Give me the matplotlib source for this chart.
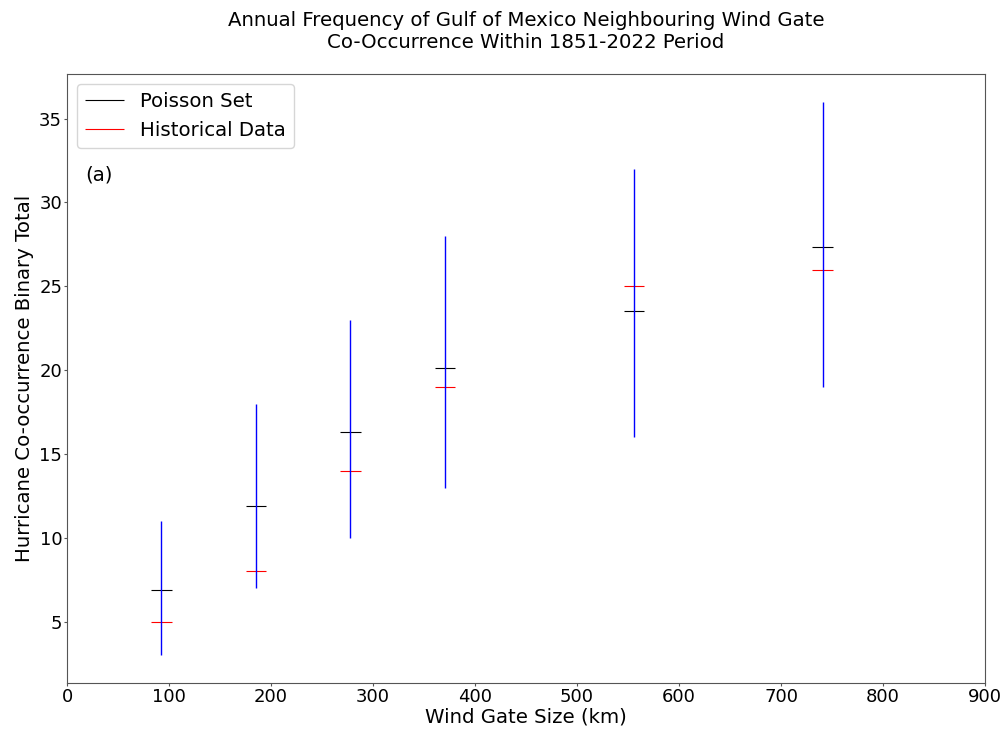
"""Gulf of Mexico wind gate co-occurrence"""

import matplotlib
matplotlib.use("Agg")
import matplotlib.pyplot as plt

# wind gate sizes in km (50, 100, 150, 200, 300, 400 nautical miles)
gate_km = [92.6, 185.2, 277.8, 370.4, 555.6, 740.8]
poisson_min = [3, 7, 10, 13, 16, 19]
poisson_max = [11, 18, 23, 28, 32, 36]
poisson_mean = [6.9, 11.9, 16.3, 20.15, 23.55, 27.35]
historical = [5, 8, 14, 19, 25, 26]

half = 10  # half width of the tick marks, km
fs = 14.2

fig = plt.figure(figsize=(10.08, 7.30), dpi=100)
ax = fig.add_axes([0.0665, 0.0644, 0.9107, 0.834])

ax.hlines(poisson_mean, [g - half for g in gate_km], [g + half for g in gate_km],
          color="black", linewidth=0.8, label="Poisson Set", zorder=2)
ax.hlines(historical, [g - half for g in gate_km], [g + half for g in gate_km],
          color="red", linewidth=0.8, label="Historical Data", zorder=2)
ax.vlines(gate_km, poisson_min, poisson_max, color="blue", linewidth=1, zorder=3)

ax.set_xlim(0, 900)
ax.set_xticks(range(0, 901, 100))
ax.tick_params(labelsize=13, length=2, pad=1.5, color="#555555")
for s in ax.spines.values():
    s.set_color("#555555")
ax.set_xlabel("Wind Gate Size (km)", fontsize=fs, labelpad=1)
ax.set_ylabel("Hurricane Co-occurrence Binary Total", fontsize=fs, labelpad=4)
ax.set_title("Annual Frequency of Gulf of Mexico Neighbouring Wind Gate\nCo-Occurrence Within 1851-2022 Period",
             fontsize=fs, pad=19)
ax.legend(loc="upper left", fontsize=fs)
ax.text(0.02, 0.825, "(a)", transform=ax.transAxes, fontsize=fs)

fig.savefig("out.png")
